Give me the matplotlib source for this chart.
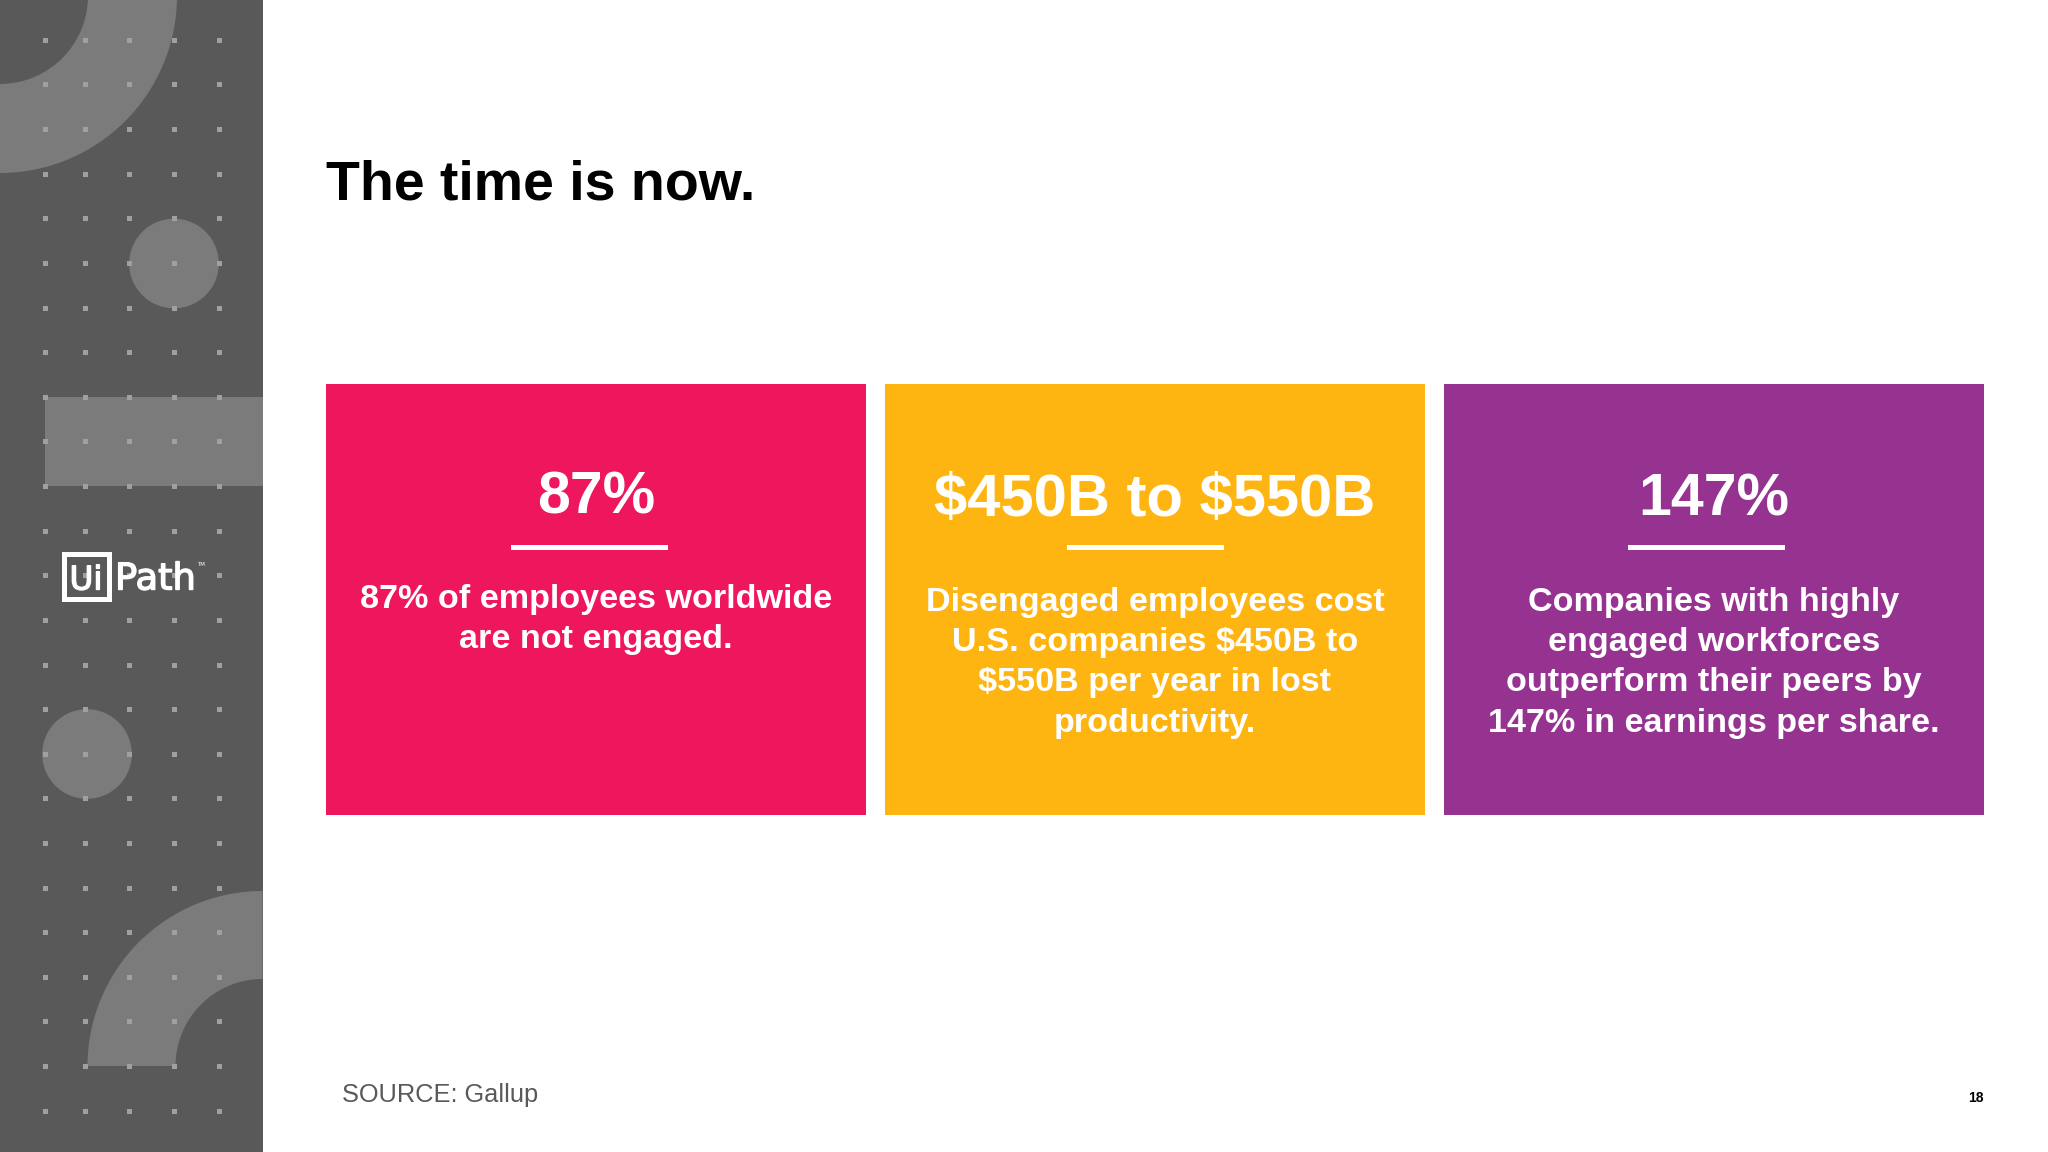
import matplotlib
matplotlib.use("Agg")
import matplotlib.pyplot as plt
import matplotlib.patheffects as pe
from matplotlib.patches import Rectangle, Circle, Wedge

W, H = 2048, 1152
FONT = "Liberation Sans"

title = "The time is now."
headlines = ["87%", "$450B to $550B", "147%"]
bodies = [
    "87% of employees worldwide\nare not engaged.",
    "Disengaged employees cost\nU.S. companies $450B to\n$550B per year in lost\nproductivity.",
    "Companies with highly\nengaged workforces\noutperform their peers by\n147% in earnings per share.",
]
source = "SOURCE: Gallup"
page = "18"
card_colors = ["#EE165C", "#FFB511", "#963391"]
card_left = [326, 885, 1444]
card_width = 540
rule_center = [589, 1145, 1706]
headline_base = [514, 516, 516]
headline_size = [42.5, 43, 42.5]
body_top = [584, 587, 587]

dot_cols = [45, 85, 129, 174, 219]
dot_rows = [40, 84, 129, 174, 218, 263, 308, 352, 397, 441, 486, 531, 575,
            620, 665, 709, 754, 798, 843, 888, 932, 977, 1021, 1066, 1111]

SIDE = "#595959"
SHAPE = "#7B7B7B"
DOT = "#A0A0A0"

fig = plt.figure(figsize=(W / 100, H / 100), dpi=100, facecolor="white")
ax = fig.add_axes([0, 0, 1, 1])
ax.set_xlim(0, W)
ax.set_ylim(H, 0)
ax.axis("off")

ax.add_patch(Rectangle((0, 0), 262.5, H, fc=SIDE, ec="none", zorder=1))

# y axis is inverted, so the wedge angles run clockwise on screen
ax.add_patch(Wedge((0, -4), 177, 0, 90, width=89, fc=SHAPE, ec="none", zorder=2))
ax.add_patch(Wedge((262.5, 1066), 175, 180, 270, width=88, fc=SHAPE, ec="none", zorder=2))
ax.add_patch(Circle((174, 263.5), 44.8, fc=SHAPE, ec="none", zorder=2))
ax.add_patch(Circle((87, 754), 44.8, fc=SHAPE, ec="none", zorder=2))
ax.add_patch(Rectangle((45, 397), 217.5, 89, fc=SHAPE, ec="none", zorder=2))

for y in dot_rows:
    for x in dot_cols:
        ax.add_patch(Rectangle((x - 2.5, y - 2.5), 5, 5, fc=DOT, ec="none", zorder=3))

# logo
heavier = [pe.withStroke(linewidth=1.0, foreground="white")]
ax.add_patch(Rectangle((63.8, 553.5), 45, 45.5, fc="none", ec="white", lw=3.6, zorder=4))
ax.text(86, 589.5, "Ui", family="DejaVu Sans", fontsize=23.5, color="white",
        ha="center", va="baseline", zorder=5, path_effects=heavier)
ax.text(115, 589.5, "Path", family="DejaVu Sans", fontsize=26.5, color="white",
        ha="left", va="baseline", zorder=5, path_effects=heavier)
ax.text(197, 565, "TM", family="DejaVu Sans", fontsize=4, color="white",
        ha="left", va="center", zorder=5)

ax.text(326, 200, title, family=FONT, weight="bold", fontsize=40, color="black",
        ha="left", va="baseline", parse_math=False)

for i in range(3):
    ax.add_patch(Rectangle((card_left[i], 384), card_width, 431,
                           fc=card_colors[i], ec="none", zorder=2))
    cx = card_left[i] + card_width / 2
    ax.text(cx, headline_base[i], headlines[i], family=FONT, weight="bold",
            fontsize=headline_size[i], color="white", ha="center", va="baseline",
            zorder=4, parse_math=False)
    ax.add_patch(Rectangle((rule_center[i] - 78.5, 545), 157, 5, fc="white", ec="none", zorder=4))
    ax.text(cx, body_top[i], bodies[i], family=FONT, weight="bold", fontsize=24.6,
            color="white", ha="center", va="top", linespacing=1.385, zorder=4, parse_math=False)

ax.text(342, 1102, source, family=FONT, fontsize=18.3, color="#595959", ha="left", va="baseline")
ax.text(1984, 1102, page, family=FONT, weight="bold", fontsize=10, color="black",
        ha="right", va="baseline")

fig.savefig("out.png", dpi=100, facecolor="white")
